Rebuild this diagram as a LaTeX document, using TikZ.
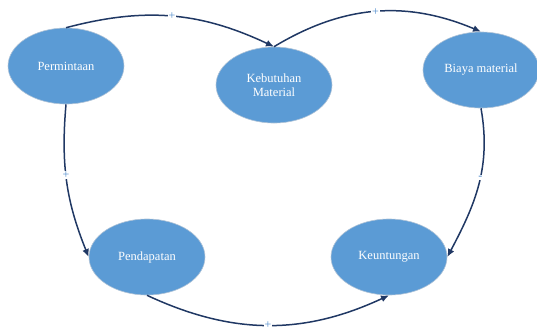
\documentclass[tikz,border=0pt]{standalone}
\usepackage{fontspec}
\setmainfont{Liberation Serif}
\usetikzlibrary{shapes.geometric,arrows.meta}
\definecolor{nodeblue}{RGB}{91,155,213}
\definecolor{nodeedge}{RGB}{175,195,215}
\definecolor{linenavy}{RGB}{32,56,100}
\definecolor{labelblue}{RGB}{80,140,205}
\tikzset{
  bubble/.style={ellipse, fill=nodeblue, draw=nodeedge, line width=0.6pt,
    minimum width=116pt, minimum height=76pt, inner sep=0pt,
    text=white, align=center, font=\fontsize{12.5}{14}\selectfont},
  link/.style={draw=linenavy, line width=1.5pt, -{Latex[length=8pt,width=7pt]}},
  sign/.style={fill=white, inner sep=0.8pt, text=labelblue, font=\fontsize{12}{12}\selectfont}
}
\begin{document}
\begin{tikzpicture}[x=1pt,y=1pt]
\useasboundingbox (0,0) rectangle (537,-327);
\node[bubble] (perm) at (66,-66) {Permintaan};
\node[bubble] (keb) at (274,-85) {Kebutuhan\\Material};
\node[bubble] (biaya) at (481,-70) {Biaya material};
\node[bubble] (pend) at (147,-257) {Pendapatan};
\node[bubble] (keun) at (389,-257) {Keuntungan};

\draw[link] (perm.north) to[bend left=20] node[sign] {+} (keb.north);
\draw[link] (keb.north) to[bend left=27] node[sign] {+} (biaya.north);
\draw[link] (perm.south) to[out=-95,in=112] node[sign,pos=0.45] {+} (pend.west);
\draw[link] (biaya.south) to[out=-80,in=62] node[sign,pos=0.45] {-} (keun.east);
\draw[link] (pend.south) to[bend right=25] node[sign] {+} (keun.south);
\end{tikzpicture}
\end{document}
